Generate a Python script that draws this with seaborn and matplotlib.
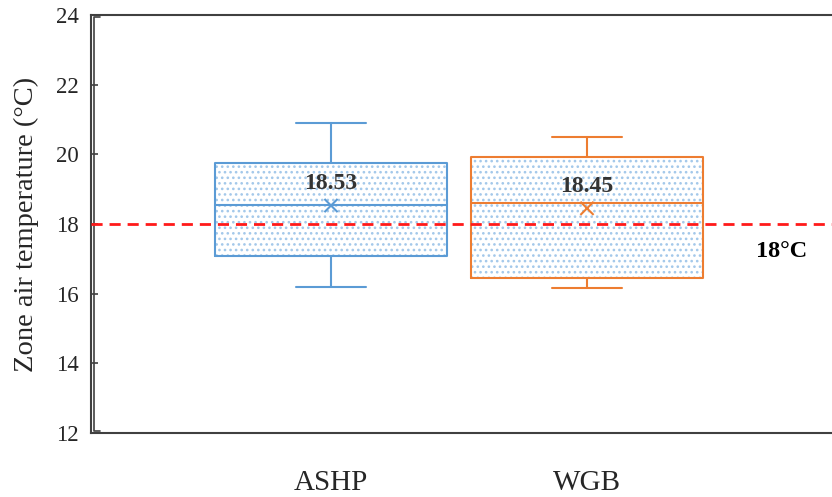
import numpy as np
import pandas as pd
import seaborn as sns
import matplotlib.pyplot as plt
import matplotlib.patches as mpatches
import matplotlib.lines as mlines
import matplotlib.transforms as mtransforms

# five-number summaries (min, Q1, median, Q3, max)
categories = ['ASHP', 'WGB']
ashp_summary = [16.20, 17.09, 18.55, 19.74, 20.89]
wgb_summary = [16.15, 16.45, 18.59, 19.91, 20.51]
means = [18.53, 18.45]
mean_labels = ['18.53', '18.45']
threshold = 18
threshold_label = '18°C'
box_colors = ['#5B9BD5', '#ED7D31']
dot_color = '#A3C8EA'

df = pd.DataFrame({
    'system': [categories[0]] * len(ashp_summary) + [categories[1]] * len(wgb_summary),
    'temp': ashp_summary + wgb_summary,
})

sns.set_theme(style='white')
plt.rcParams['font.family'] = ['Liberation Serif', 'DejaVu Serif']
plt.rcParams['hatch.linewidth'] = 1.1

fig = plt.figure(figsize=(8.32, 4.97), dpi=100)
ax = fig.add_axes([0.1094, 0.1288, 0.8906, 0.8410])

sns.boxplot(data=df, x='system', y='temp', hue='system', palette=box_colors,
            fill=False, width=0.906, whis=(0, 100), linewidth=1.5,
            legend=False, ax=ax)

# dotted fill behind each box outline
for ln in list(ax.lines):
    xd = np.asarray(ln.get_xdata(), dtype=float)
    yd = np.asarray(ln.get_ydata(), dtype=float)
    if len(xd) == 5:
        ax.add_patch(mpatches.Polygon(np.column_stack([xd, yd]), closed=True,
                                      fc='white', ec=dot_color, lw=0,
                                      hatch='...', zorder=1))
    elif len(xd) == 2 and yd[0] == yd[1] and abs(xd[1] - xd[0]) < 0.6:
        # narrower whisker caps
        mid = xd.mean()
        ln.set_xdata([mid - 0.135, mid + 0.135])

pos = np.arange(len(categories))
sns.scatterplot(x=pos, y=means, hue=categories, palette=box_colors, marker='x',
                s=90, linewidth=1.5, legend=False, ax=ax, zorder=4)
for x, m, t in zip(pos, means, mean_labels):
    ax.annotate(t, (x, m), xytext=(0, 8), textcoords='offset points',
                ha='center', va='bottom', fontsize=17, fontweight='bold',
                color='#333333')

ax.axhline(threshold, color='#FF1A1A', lw=2, ls=(0, (4, 2.5)), zorder=3)
ax.text(1.76, 17.22, threshold_label, ha='center', va='center', fontsize=17.5,
        fontweight='bold', color='black')

ax.set_xlim(-0.9375, 1.957)
ax.set_ylim(12, 24)
ax.set_yticks(range(12, 25, 2))
ax.set_xlabel('')
ax.set_ylabel('Zone air temperature (°C)', fontsize=20.5, labelpad=12)
ax.tick_params(axis='y', direction='in', length=5, width=1.2, color='#404040',
               labelsize=16.5, pad=9, left=True)
ax.tick_params(axis='x', length=0, labelsize=21, pad=27)

for s in ['left', 'top', 'bottom']:
    ax.spines[s].set_color('#404040')
    ax.spines[s].set_linewidth(1.5)
ax.spines['right'].set_visible(False)

# inner bracket line of the doubled left border
off = mtransforms.offset_copy(ax.transAxes, fig=fig, x=3, y=0, units='dots')
ax.add_line(mlines.Line2D([0.008, 0, 0, 0.008], [0.995, 0.995, 0.005, 0.005],
                          transform=off, color='#404040', lw=1.2,
                          clip_on=False))

fig.savefig('out.png', dpi=100)
